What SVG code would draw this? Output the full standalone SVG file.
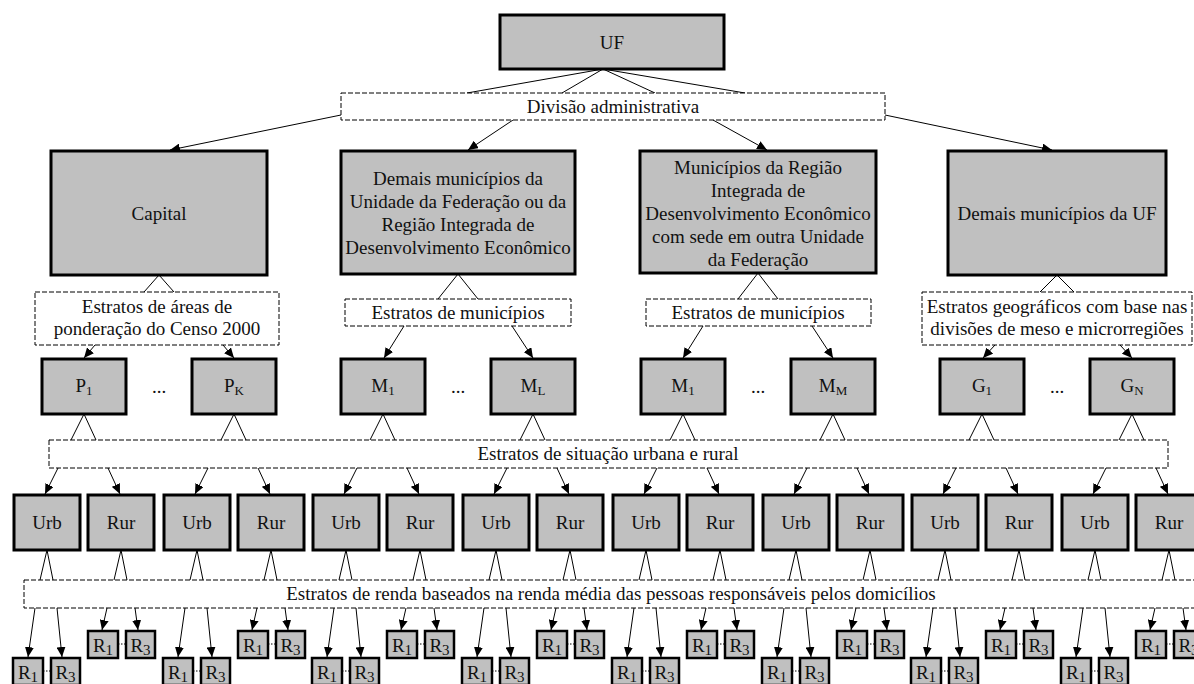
<svg xmlns="http://www.w3.org/2000/svg" width="1194" height="684" viewBox="0 0 1194 684">
<style>
.box{fill:#c0c0c0;stroke:#000;stroke-width:3}
.rbox{fill:#c0c0c0;stroke:#000;stroke-width:2.5}
.dash{fill:#fff;stroke:#000;stroke-width:1;stroke-dasharray:5 2}
.ln{stroke:#000;stroke-width:1;fill:none}
.arr{marker-end:url(#ah)}
.dot{stroke:#000;stroke-width:1;stroke-dasharray:1.5 1.5}
.t{font-family:"Liberation Serif","Times New Roman",serif;font-size:19px;text-anchor:middle;fill:#111}
.s{font-size:13px}
.rs{font-size:15px}
</style>
<defs>
<marker id="ah" markerUnits="userSpaceOnUse" markerWidth="10" markerHeight="9" refX="10" refY="4.5" orient="auto"><path d="M0,0 L10,4.5 L0,9 z" fill="#000"/></marker>
</defs>
<rect width="1194" height="684" fill="#fff"/>
<g id="connectors">
<polyline class="ln" points="467,93 603,69 745,93"/>
<polyline class="ln" points="562,93 603,69 655,93"/>
<line class="ln arr" x1="341" y1="115" x2="170" y2="150"/>
<line class="ln arr" x1="513" y1="120" x2="468" y2="150"/>
<line class="ln arr" x1="713" y1="120" x2="767" y2="150"/>
<line class="ln arr" x1="885" y1="115" x2="1052" y2="150"/>
<polyline class="ln" points="144,292 159,275 174,292"/>
<polyline class="ln" points="438,299 458,274 478,299"/>
<polyline class="ln" points="738,299 758,273 778,299"/>
<polyline class="ln" points="1040,292 1057,275 1074,292"/>
<line class="ln arr" x1="95" y1="345" x2="84" y2="358"/>
<line class="ln arr" x1="223" y1="345" x2="234" y2="358"/>
<line class="ln arr" x1="404" y1="326" x2="384" y2="358"/>
<line class="ln arr" x1="512" y1="326" x2="533" y2="358"/>
<line class="ln arr" x1="703" y1="326" x2="683" y2="358"/>
<line class="ln arr" x1="812" y1="326" x2="833" y2="358"/>
<line class="ln arr" x1="995" y1="345" x2="983" y2="358"/>
<line class="ln arr" x1="1120" y1="345" x2="1132" y2="358"/>
<polyline class="ln" points="71,440 84,414 96,440"/>
<line class="ln arr" x1="58" y1="468" x2="45" y2="494"/><line class="ln arr" x1="108" y1="468" x2="120" y2="494"/>
<polyline class="ln" points="40,580 47,550 53,580"/><polyline class="ln" points="114,580 121,550 127,580"/>
<line class="ln arr" x1="35" y1="608" x2="28" y2="657"/><line class="ln arr" x1="57" y1="608" x2="62" y2="657"/>
<line class="ln arr" x1="107" y1="608" x2="102" y2="630"/><line class="ln arr" x1="135" y1="608" x2="138" y2="630"/>
<line class="dot" x1="43" y1="671" x2="51" y2="671"/><line class="dot" x1="118" y1="644" x2="126" y2="644"/>
<polyline class="ln" points="221,440 234,414 246,440"/>
<line class="ln arr" x1="208" y1="468" x2="195" y2="494"/><line class="ln arr" x1="258" y1="468" x2="270" y2="494"/>
<polyline class="ln" points="190,580 197,550 203,580"/><polyline class="ln" points="264,580 271,550 277,580"/>
<line class="ln arr" x1="185" y1="608" x2="178" y2="657"/><line class="ln arr" x1="207" y1="608" x2="212" y2="657"/>
<line class="ln arr" x1="257" y1="608" x2="252" y2="630"/><line class="ln arr" x1="285" y1="608" x2="288" y2="630"/>
<line class="dot" x1="193" y1="671" x2="201" y2="671"/><line class="dot" x1="268" y1="644" x2="276" y2="644"/>
<polyline class="ln" points="370,440 383,414 395,440"/>
<line class="ln arr" x1="357" y1="468" x2="344" y2="494"/><line class="ln arr" x1="407" y1="468" x2="419" y2="494"/>
<polyline class="ln" points="339,580 346,550 352,580"/><polyline class="ln" points="413,580 420,550 426,580"/>
<line class="ln arr" x1="334" y1="608" x2="327" y2="657"/><line class="ln arr" x1="356" y1="608" x2="361" y2="657"/>
<line class="ln arr" x1="406" y1="608" x2="401" y2="630"/><line class="ln arr" x1="434" y1="608" x2="437" y2="630"/>
<line class="dot" x1="342" y1="671" x2="350" y2="671"/><line class="dot" x1="417" y1="644" x2="425" y2="644"/>
<polyline class="ln" points="520,440 533,414 545,440"/>
<line class="ln arr" x1="507" y1="468" x2="494" y2="494"/><line class="ln arr" x1="557" y1="468" x2="569" y2="494"/>
<polyline class="ln" points="489,580 496,550 502,580"/><polyline class="ln" points="563,580 570,550 576,580"/>
<line class="ln arr" x1="484" y1="608" x2="477" y2="657"/><line class="ln arr" x1="506" y1="608" x2="511" y2="657"/>
<line class="ln arr" x1="556" y1="608" x2="551" y2="630"/><line class="ln arr" x1="584" y1="608" x2="587" y2="630"/>
<line class="dot" x1="492" y1="671" x2="500" y2="671"/><line class="dot" x1="567" y1="644" x2="575" y2="644"/>
<polyline class="ln" points="670,440 683,414 695,440"/>
<line class="ln arr" x1="657" y1="468" x2="644" y2="494"/><line class="ln arr" x1="707" y1="468" x2="719" y2="494"/>
<polyline class="ln" points="639,580 646,550 652,580"/><polyline class="ln" points="713,580 720,550 726,580"/>
<line class="ln arr" x1="634" y1="608" x2="627" y2="657"/><line class="ln arr" x1="656" y1="608" x2="661" y2="657"/>
<line class="ln arr" x1="706" y1="608" x2="701" y2="630"/><line class="ln arr" x1="734" y1="608" x2="737" y2="630"/>
<line class="dot" x1="642" y1="671" x2="650" y2="671"/><line class="dot" x1="717" y1="644" x2="725" y2="644"/>
<polyline class="ln" points="820,440 833,414 845,440"/>
<line class="ln arr" x1="807" y1="468" x2="794" y2="494"/><line class="ln arr" x1="857" y1="468" x2="869" y2="494"/>
<polyline class="ln" points="789,580 796,550 802,580"/><polyline class="ln" points="863,580 870,550 876,580"/>
<line class="ln arr" x1="784" y1="608" x2="777" y2="657"/><line class="ln arr" x1="806" y1="608" x2="811" y2="657"/>
<line class="ln arr" x1="856" y1="608" x2="851" y2="630"/><line class="ln arr" x1="884" y1="608" x2="887" y2="630"/>
<line class="dot" x1="792" y1="671" x2="800" y2="671"/><line class="dot" x1="867" y1="644" x2="875" y2="644"/>
<polyline class="ln" points="969,440 982,414 994,440"/>
<line class="ln arr" x1="956" y1="468" x2="943" y2="494"/><line class="ln arr" x1="1006" y1="468" x2="1018" y2="494"/>
<polyline class="ln" points="938,580 945,550 951,580"/><polyline class="ln" points="1012,580 1019,550 1025,580"/>
<line class="ln arr" x1="933" y1="608" x2="926" y2="657"/><line class="ln arr" x1="955" y1="608" x2="960" y2="657"/>
<line class="ln arr" x1="1005" y1="608" x2="1000" y2="630"/><line class="ln arr" x1="1033" y1="608" x2="1036" y2="630"/>
<line class="dot" x1="941" y1="671" x2="949" y2="671"/><line class="dot" x1="1016" y1="644" x2="1024" y2="644"/>
<polyline class="ln" points="1119,440 1132,414 1144,440"/>
<line class="ln arr" x1="1106" y1="468" x2="1093" y2="494"/><line class="ln arr" x1="1156" y1="468" x2="1168" y2="494"/>
<polyline class="ln" points="1088,580 1095,550 1101,580"/><polyline class="ln" points="1162,580 1169,550 1175,580"/>
<line class="ln arr" x1="1083" y1="608" x2="1076" y2="657"/><line class="ln arr" x1="1105" y1="608" x2="1110" y2="657"/>
<line class="ln arr" x1="1155" y1="608" x2="1150" y2="630"/><line class="ln arr" x1="1183" y1="608" x2="1186" y2="630"/>
<line class="dot" x1="1091" y1="671" x2="1099" y2="671"/><line class="dot" x1="1166" y1="644" x2="1174" y2="644"/>
</g>
<g id="uf"><rect class="box" x="500" y="15" width="224" height="54"/><text class="t" x="612" y="49">UF</text></g>
<g id="divisao"><rect class="dash" x="341" y="93" width="544" height="27"/><text class="t" x="613" y="113">Divisão administrativa</text></g>
<g id="capital"><rect class="box" x="51" y="151" width="216" height="124"/><text class="t" x="159" y="220">Capital</text></g>
<g id="demais-uf-rided"><rect class="box" x="341" y="151" width="234" height="123"/>
<text class="t" x="458" y="185">Demais municípios da</text>
<text class="t" x="458" y="208">Unidade da Federação ou da</text>
<text class="t" x="458" y="231">Região Integrada de</text>
<text class="t" x="458" y="254">Desenvolvimento Econômico</text></g>
<g id="rided-outra"><rect class="box" x="640" y="151" width="236" height="122"/>
<text class="t" x="758" y="174">Municípios da Região</text>
<text class="t" x="758" y="197">Integrada de</text>
<text class="t" x="758" y="220">Desenvolvimento Econômico</text>
<text class="t" x="758" y="243">com sede em outra Unidade</text>
<text class="t" x="758" y="266">da Federação</text></g>
<g id="demais-uf"><rect class="box" x="948" y="151" width="218" height="124"/><text class="t" x="1057" y="220">Demais municípios da UF</text></g>
<g id="estr-ponderacao"><rect class="dash" x="35" y="292" width="244" height="53"/>
<text class="t" x="157" y="313">Estratos de áreas de</text>
<text class="t" x="157" y="335">ponderação do Censo 2000</text></g>
<g id="estr-mun-1"><rect class="dash" x="345" y="299" width="226" height="27"/><text class="t" x="458" y="319">Estratos de municípios</text></g>
<g id="estr-mun-2"><rect class="dash" x="646" y="299" width="225" height="27"/><text class="t" x="758" y="319">Estratos de municípios</text></g>
<g id="estr-geo"><rect class="dash" x="922" y="292" width="270" height="53"/>
<text class="t" x="1057" y="313">Estratos geográficos com base nas</text>
<text class="t" x="1057" y="335">divisões de meso e microrregiões</text></g>
<g id="p1"><rect class="box" x="42" y="359" width="84" height="55"/><text class="t" x="84" y="392">P<tspan class="s" dy="3">1</tspan></text></g>
<g id="pk"><rect class="box" x="192" y="359" width="84" height="55"/><text class="t" x="234" y="392">P<tspan class="s" dy="3">K</tspan></text></g>
<g id="m1a"><rect class="box" x="341" y="359" width="84" height="55"/><text class="t" x="383" y="392">M<tspan class="s" dy="3">1</tspan></text></g>
<g id="ml"><rect class="box" x="491" y="359" width="84" height="55"/><text class="t" x="533" y="392">M<tspan class="s" dy="3">L</tspan></text></g>
<g id="m1b"><rect class="box" x="641" y="359" width="84" height="55"/><text class="t" x="683" y="392">M<tspan class="s" dy="3">1</tspan></text></g>
<g id="mm"><rect class="box" x="791" y="359" width="84" height="55"/><text class="t" x="833" y="392">M<tspan class="s" dy="3">M</tspan></text></g>
<g id="g1"><rect class="box" x="940" y="359" width="84" height="55"/><text class="t" x="982" y="392">G<tspan class="s" dy="3">1</tspan></text></g>
<g id="gn"><rect class="box" x="1090" y="359" width="84" height="55"/><text class="t" x="1132" y="392">G<tspan class="s" dy="3">N</tspan></text></g>
<g id="ellipses"><text class="t" x="159" y="393">...</text><text class="t" x="458" y="393">...</text><text class="t" x="758" y="393">...</text><text class="t" x="1057" y="393">...</text></g>
<g id="situacao"><rect class="dash" x="49" y="440" width="1119" height="28"/><text class="t" x="608" y="460">Estratos de situação urbana e rural</text></g>
<g id="urb-rur">
<rect class="box" x="14" y="495" width="66" height="55"/><text class="t" x="47" y="529">Urb</text>
<rect class="box" x="88" y="495" width="66" height="55"/><text class="t" x="121" y="529">Rur</text>
<rect class="box" x="164" y="495" width="66" height="55"/><text class="t" x="197" y="529">Urb</text>
<rect class="box" x="238" y="495" width="66" height="55"/><text class="t" x="271" y="529">Rur</text>
<rect class="box" x="313" y="495" width="66" height="55"/><text class="t" x="346" y="529">Urb</text>
<rect class="box" x="387" y="495" width="66" height="55"/><text class="t" x="420" y="529">Rur</text>
<rect class="box" x="463" y="495" width="66" height="55"/><text class="t" x="496" y="529">Urb</text>
<rect class="box" x="537" y="495" width="66" height="55"/><text class="t" x="570" y="529">Rur</text>
<rect class="box" x="613" y="495" width="66" height="55"/><text class="t" x="646" y="529">Urb</text>
<rect class="box" x="687" y="495" width="66" height="55"/><text class="t" x="720" y="529">Rur</text>
<rect class="box" x="763" y="495" width="66" height="55"/><text class="t" x="796" y="529">Urb</text>
<rect class="box" x="837" y="495" width="66" height="55"/><text class="t" x="870" y="529">Rur</text>
<rect class="box" x="912" y="495" width="66" height="55"/><text class="t" x="945" y="529">Urb</text>
<rect class="box" x="986" y="495" width="66" height="55"/><text class="t" x="1019" y="529">Rur</text>
<rect class="box" x="1062" y="495" width="66" height="55"/><text class="t" x="1095" y="529">Urb</text>
<rect class="box" x="1136" y="495" width="66" height="55"/><text class="t" x="1169" y="529">Rur</text>
</g>
<g id="renda"><rect class="dash" x="24" y="580" width="1174" height="28"/><text class="t" x="611" y="600">Estratos de renda baseados na renda média das pessoas responsáveis pelos domicílios</text></g>
<g id="r-boxes">
<rect class="rbox" x="13" y="658" width="30" height="27"/><text class="t" x="28" y="679">R<tspan class="rs" dy="3">1</tspan></text>
<rect class="rbox" x="51" y="658" width="29" height="27"/><text class="t" x="65.5" y="679">R<tspan class="rs" dy="3">3</tspan></text>
<rect class="rbox" x="88" y="631" width="30" height="27"/><text class="t" x="103" y="652">R<tspan class="rs" dy="3">1</tspan></text>
<rect class="rbox" x="126" y="631" width="29" height="27"/><text class="t" x="140.5" y="652">R<tspan class="rs" dy="3">3</tspan></text>
<rect class="rbox" x="163" y="658" width="30" height="27"/><text class="t" x="178" y="679">R<tspan class="rs" dy="3">1</tspan></text>
<rect class="rbox" x="201" y="658" width="29" height="27"/><text class="t" x="215.5" y="679">R<tspan class="rs" dy="3">3</tspan></text>
<rect class="rbox" x="238" y="631" width="30" height="27"/><text class="t" x="253" y="652">R<tspan class="rs" dy="3">1</tspan></text>
<rect class="rbox" x="276" y="631" width="29" height="27"/><text class="t" x="290.5" y="652">R<tspan class="rs" dy="3">3</tspan></text>
<rect class="rbox" x="312" y="658" width="30" height="27"/><text class="t" x="327" y="679">R<tspan class="rs" dy="3">1</tspan></text>
<rect class="rbox" x="350" y="658" width="29" height="27"/><text class="t" x="364.5" y="679">R<tspan class="rs" dy="3">3</tspan></text>
<rect class="rbox" x="387" y="631" width="30" height="27"/><text class="t" x="402" y="652">R<tspan class="rs" dy="3">1</tspan></text>
<rect class="rbox" x="425" y="631" width="29" height="27"/><text class="t" x="439.5" y="652">R<tspan class="rs" dy="3">3</tspan></text>
<rect class="rbox" x="462" y="658" width="30" height="27"/><text class="t" x="477" y="679">R<tspan class="rs" dy="3">1</tspan></text>
<rect class="rbox" x="500" y="658" width="29" height="27"/><text class="t" x="514.5" y="679">R<tspan class="rs" dy="3">3</tspan></text>
<rect class="rbox" x="537" y="631" width="30" height="27"/><text class="t" x="552" y="652">R<tspan class="rs" dy="3">1</tspan></text>
<rect class="rbox" x="575" y="631" width="29" height="27"/><text class="t" x="589.5" y="652">R<tspan class="rs" dy="3">3</tspan></text>
<rect class="rbox" x="612" y="658" width="30" height="27"/><text class="t" x="627" y="679">R<tspan class="rs" dy="3">1</tspan></text>
<rect class="rbox" x="650" y="658" width="29" height="27"/><text class="t" x="664.5" y="679">R<tspan class="rs" dy="3">3</tspan></text>
<rect class="rbox" x="687" y="631" width="30" height="27"/><text class="t" x="702" y="652">R<tspan class="rs" dy="3">1</tspan></text>
<rect class="rbox" x="725" y="631" width="29" height="27"/><text class="t" x="739.5" y="652">R<tspan class="rs" dy="3">3</tspan></text>
<rect class="rbox" x="762" y="658" width="30" height="27"/><text class="t" x="777" y="679">R<tspan class="rs" dy="3">1</tspan></text>
<rect class="rbox" x="800" y="658" width="29" height="27"/><text class="t" x="814.5" y="679">R<tspan class="rs" dy="3">3</tspan></text>
<rect class="rbox" x="837" y="631" width="30" height="27"/><text class="t" x="852" y="652">R<tspan class="rs" dy="3">1</tspan></text>
<rect class="rbox" x="875" y="631" width="29" height="27"/><text class="t" x="889.5" y="652">R<tspan class="rs" dy="3">3</tspan></text>
<rect class="rbox" x="911" y="658" width="30" height="27"/><text class="t" x="926" y="679">R<tspan class="rs" dy="3">1</tspan></text>
<rect class="rbox" x="949" y="658" width="29" height="27"/><text class="t" x="963.5" y="679">R<tspan class="rs" dy="3">3</tspan></text>
<rect class="rbox" x="986" y="631" width="30" height="27"/><text class="t" x="1001" y="652">R<tspan class="rs" dy="3">1</tspan></text>
<rect class="rbox" x="1024" y="631" width="29" height="27"/><text class="t" x="1038.5" y="652">R<tspan class="rs" dy="3">3</tspan></text>
<rect class="rbox" x="1061" y="658" width="30" height="27"/><text class="t" x="1076" y="679">R<tspan class="rs" dy="3">1</tspan></text>
<rect class="rbox" x="1099" y="658" width="29" height="27"/><text class="t" x="1113.5" y="679">R<tspan class="rs" dy="3">3</tspan></text>
<rect class="rbox" x="1136" y="631" width="30" height="27"/><text class="t" x="1151" y="652">R<tspan class="rs" dy="3">1</tspan></text>
<rect class="rbox" x="1174" y="631" width="29" height="27"/><text class="t" x="1188.5" y="652">R<tspan class="rs" dy="3">3</tspan></text>
</g>
</svg>
